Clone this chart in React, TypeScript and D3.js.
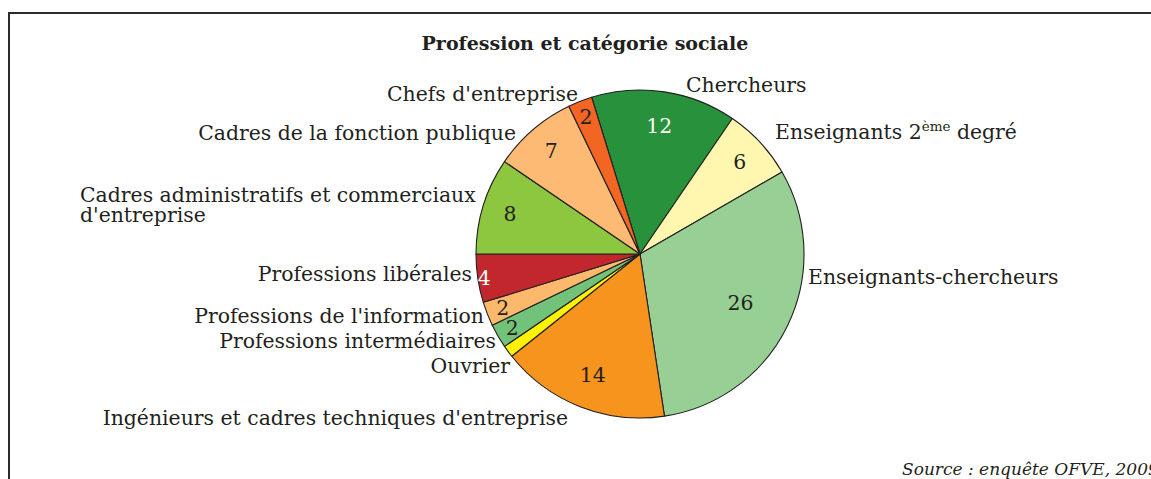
import React from "react";
import * as d3 from "d3";

const categories = [
  "Chercheurs",
  "Enseignants 2ème degré",
  "Enseignants-chercheurs",
  "Ingénieurs et cadres techniques d'entreprise",
  "Ouvrier",
  "Professions intermédiaires",
  "Professions de l'information",
  "Professions libérales",
  "Cadres administratifs et commerciaux d'entreprise",
  "Cadres de la fonction publique",
  "Chefs d'entreprise",
];
const values = [12, 6, 26, 14, 1, 2, 2, 4, 8, 7, 2];
const colors = [
  "#27913b", "#fff6b0", "#97cf95", "#f7941d", "#fff200", "#73c27a",
  "#fdb96b", "#c1272d", "#8dc63f", "#fdba74", "#f26522",
];
const valueTextColors = ["#fff", "#231f20", "#231f20", "#231f20", "#231f20", "#231f20", "#231f20", "#fff", "#231f20", "#231f20", "#231f20"];
const title = "Profession et catégorie sociale";
const source = "Source : enquête OFVE, 2009";

const W = 1151, H = 479;
const cx = 640, cy = 254, R = 164;
const FONT = "'DejaVu Serif', serif";
const TXT = "#231f20";

export default function App() {
  const total = d3.sum(values);
  const unit = (2 * Math.PI) / total;
  // Cadres administratifs start at 9 o'clock
  const before = d3.sum(values.slice(0, 8));
  const start = (3 * Math.PI) / 2 - before * unit;
  const pie = d3.pie<number>().sort(null).value((d) => d).startAngle(start).endAngle(start + 2 * Math.PI);
  const arcs = pie(values);
  const arc = d3.arc<d3.PieArcDatum<number>>().innerRadius(0).outerRadius(R);

  const labelR = (v: number) => (v >= 20 ? 0.68 : v >= 10 ? 0.79 : v >= 5 ? 0.83 : v >= 4 ? 0.96 : 0.9) * R;

  const fs = 20.4;
  return (
    <svg width={W} height={H} style={{ position: "absolute", left: 0, top: 0, background: "#fff" }} fontFamily={FONT}>
      <rect x={9} y={13} width={W + 20} height={H + 20} fill="#fff" stroke="#2b2b2b" strokeWidth={2} />
      <text x={585} y={50} textAnchor="middle" fontWeight="bold" fontSize={19} fill={TXT}>{title}</text>
      <g transform={`translate(${cx},${cy})`}>
        {arcs.map((a, i) => (
          <path key={i} d={arc(a) || ""} fill={colors[i]} stroke="#231f20" strokeWidth={1.1} strokeLinejoin="round" />
        ))}
        {arcs.map((a, i) => {
          if (values[i] < 2) return null;
          const m = (a.startAngle + a.endAngle) / 2;
          const r = labelR(values[i]);
          const x = r * Math.sin(m), y = -r * Math.cos(m);
          return (
            <text key={i} x={x} y={y} dy="0.35em" textAnchor="middle" fontSize={fs} fill={valueTextColors[i]}>{values[i]}</text>
          );
        })}
      </g>
      <g fontSize={fs} fill={TXT}>
        <text x={686} y={92}>{categories[0]}</text>
        <text x={775} y={139}>
          <tspan>Enseignants 2</tspan>
          <tspan fontSize={13.5} dy={-8}>ème</tspan>
          <tspan dy={8}> degré</tspan>
        </text>
        <text x={808} y={284}>{categories[2]}</text>
        <text x={568} y={425} textAnchor="end">{categories[3]}</text>
        <text x={510} y={373} textAnchor="end">{categories[4]}</text>
        <text x={496} y={348} textAnchor="end">{categories[5]}</text>
        <text x={484} y={323} textAnchor="end">{categories[6]}</text>
        <text x={472} y={281} textAnchor="end">{categories[7]}</text>
        <text x={80} y={202}>Cadres administratifs et commerciaux</text>
        <text x={80} y={222}>d'entreprise</text>
        <text x={516} y={140} textAnchor="end">{categories[9]}</text>
        <text x={578} y={101} textAnchor="end">{categories[10]}</text>
      </g>
      <text x={902} y={475} fontSize={17} fontStyle="italic" fill={TXT}>{source}</text>
    </svg>
  );
}
